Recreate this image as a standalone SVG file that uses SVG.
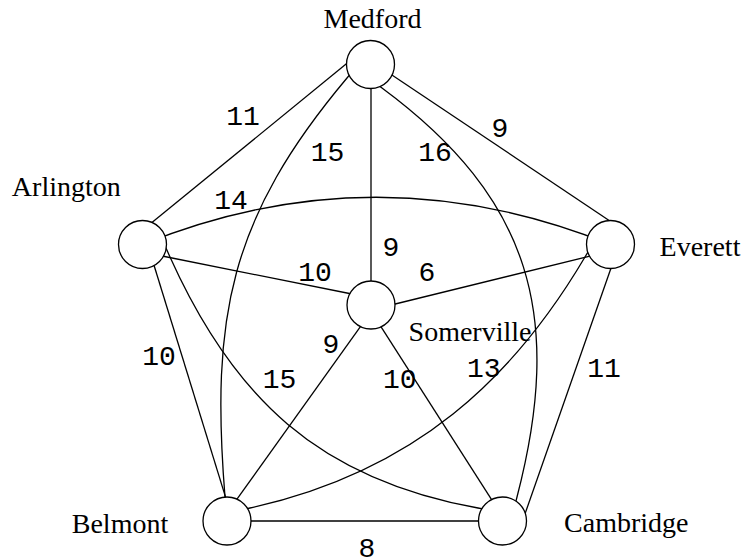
<svg xmlns="http://www.w3.org/2000/svg" width="745" height="560" viewBox="0 0 745 560">
<style>
.edge{fill:none;stroke:#000;stroke-width:1.3}
.node circle{fill:#fff;stroke:#000;stroke-width:1.3}
.nl{font-family:"Liberation Serif","Times New Roman",serif;font-size:28px;fill:#000;text-anchor:middle}
.el{font-family:"Liberation Mono","Courier New",monospace;font-size:28px;fill:#000;text-anchor:middle}
</style>
<rect width="745" height="560" fill="#fff"/>
<g id="edges">
<path class="edge" d="M347.3,63.1 L150.4,223.8"/>
<path class="edge" d="M390.8,74.2 L612.5,222.7"/>
<path class="edge" d="M371,87 L371,283"/>
<path class="edge" d="M162.1,256 L351.9,294"/>
<path class="edge" d="M590.9,255.8 L391.1,305"/>
<path class="edge" d="M153,262 L226.4,499.9"/>
<path class="edge" d="M361.5,325.1 L235.9,500.7"/>
<path class="edge" d="M379.8,324.9 L493.2,502.1"/>
<path class="edge" d="M248,521 L482,521"/>
<path class="edge" d="M612,265.2 L524.4,515.6"/>
<path class="edge" d="M349.6,74.9 L347,78 C229.4,218 210.6,317 225,497 L226,503"/>
<path class="edge" d="M379.6,86.2 L382,88 C532,199 563.8,317 517,497 L515.5,502.8"/>
<path class="edge" d="M142.5,244.5 Q376,150 610.5,244.5"/>
<path class="edge" d="M165.1,246.1 L170,257 C233,397 318,479.2 478,508 L483.9,509.1"/>
<path class="edge" d="M588.1,251.8 L585,257 C513.7,377.5 416.1,471.4 250,508 L245.1,509.1"/>
<text class="el" x="243" y="125">11</text>
<text class="el" x="327.5" y="161">15</text>
<text class="el" x="435" y="161">16</text>
<text class="el" x="500" y="136.7">9</text>
<text class="el" x="231" y="209">14</text>
<text class="el" x="391" y="256">9</text>
<text class="el" x="427" y="281">6</text>
<text class="el" x="315" y="281">10</text>
<text class="el" x="159" y="365">10</text>
<text class="el" x="331" y="353.3">9</text>
<text class="el" x="279.5" y="388.3">15</text>
<text class="el" x="399.7" y="388.3">10</text>
<text class="el" x="483.7" y="376.7">13</text>
<text class="el" x="604" y="377">11</text>
<text class="el" x="367" y="557.3">8</text>
</g>
<g id="medford" class="node"><circle cx="370.5" cy="64.5" r="24"/><text class="nl" x="372.5" y="28">Medford</text></g>
<g id="arlington" class="node"><circle cx="142.5" cy="244.5" r="24"/><text class="nl" x="66.3" y="196">Arlington</text></g>
<g id="everett" class="node"><circle cx="610.5" cy="244.5" r="24"/><text class="nl" x="700" y="256">Everett</text></g>
<g id="somerville" class="node"><circle cx="371" cy="305" r="24"/><text class="nl" x="470" y="341">Somerville</text></g>
<g id="belmont" class="node"><circle cx="227" cy="521" r="24"/><text class="nl" x="120" y="532.7">Belmont</text></g>
<g id="cambridge" class="node"><circle cx="502.5" cy="521" r="24"/><text class="nl" x="626.3" y="531.7">Cambridge</text></g>
</svg>
